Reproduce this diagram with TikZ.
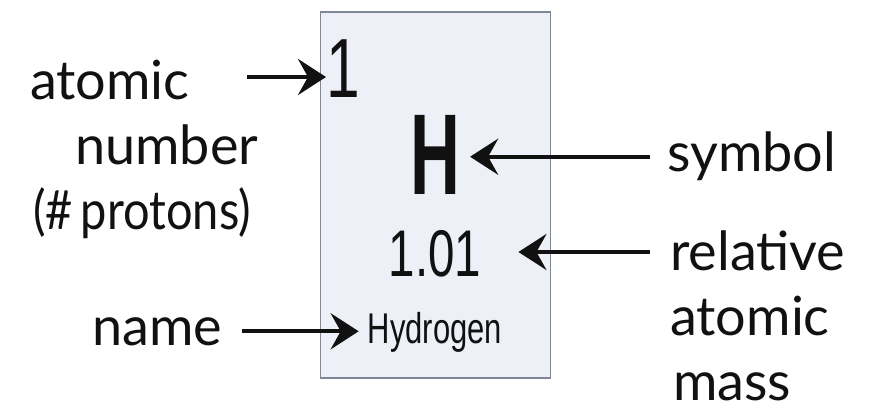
\documentclass[tikz,border=0pt]{standalone}
\usepackage{xcolor}
\usepackage{fontspec}
\usepackage{tikz}
\usetikzlibrary{positioning,arrows.meta}
\newfontfamily\cellfont{Liberation Sans}[FakeStretch=0.72]
\newfontfamily\symfont{Liberation Sans}[FakeStretch=0.6]
\newfontfamily\handfont{Lato}
\definecolor{cardFill}{HTML}{EEF0F8}
\definecolor{cardLine}{HTML}{7F8698}
\definecolor{inkBlack}{HTML}{111111}
\tikzset{
  card/.style={draw=cardLine, line width=1.6pt, fill=cardFill, inner sep=0pt},
  cellText/.style={inner sep=0pt, text=inkBlack},
  hand/.style={inner sep=0pt, text=inkBlack, align=left, font=\handfont\fontsize{54}{65}\selectfont},
  arrow/.style={-{Stealth[length=28pt, width=36pt, inset=10pt]}, line width=4pt, draw=inkBlack}
}
\begin{document}
\begin{tikzpicture}[x=1pt, y=-1pt]
  \useasboundingbox (0,0) rectangle (869,411);
  \node[card, minimum width=230pt, minimum height=366pt] (elem) at (435.5,195) {};
  \node[cellText, anchor=base west, font=\cellfont\fontsize{84}{84}\selectfont] (num) at (326,98) {1};
  \node[cellText, anchor=base, font=\symfont\bfseries\fontsize{115}{115}\selectfont] (sym) at (435,195) {H};
  \node[cellText, anchor=base, font=\cellfont\fontsize{66}{66}\selectfont] (mass) at (435,277) {1.01};
  \node[cellText, anchor=base, font=\cellfont\fontsize{43}{43}\selectfont] (elname) at (435,343) {Hydrogen};

  % multi-line labels sit on the baseline of their last line
  \node[hand, anchor=base west] (lblNum) at (30,230) {atomic\\\hspace*{45pt}number\\\hspace*{3pt}\scalebox{0.87}[1]{(\#\,protons)}};
  \node[hand, anchor=base west] (lblName) at (92,345) {name};
  \node[hand, anchor=base west] (lblSym) at (667,172) {symbol};
  \node[hand, anchor=base west] (lblMass) at (670,400) {relative\\atomic\\\hspace*{3pt}mass};

  \coordinate (numTail) at (247,77);
  \coordinate (massTail) at (650,252);
  \draw[arrow] (numTail) -- (numTail -| num.west);
  \draw[arrow, shorten <=20pt, shorten >=9pt] (lblName.east) -- (lblName.east -| elname.west);
  \draw[arrow, shorten <=17pt, shorten >=10pt] (lblSym.west) -- (lblSym.west -| sym.east);
  \draw[arrow, shorten >=37pt] (massTail) -- (massTail -| mass.east);
\end{tikzpicture}
\end{document}
